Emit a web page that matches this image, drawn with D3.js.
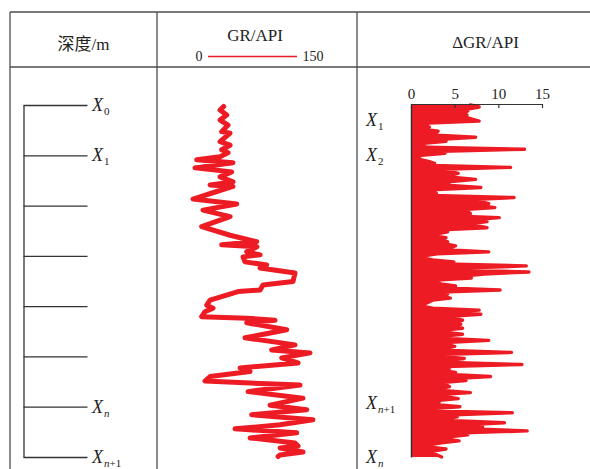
<!DOCTYPE html>
<html>
<head>
<meta charset="utf-8">
<script src="https://cdn.jsdelivr.net/npm/d3@7"></script>
<style>
  body { margin: 0; background: #fff; }
  svg text { font-family: "Liberation Serif", "Times New Roman", "Noto Sans CJK SC", serif; fill: #222; }
</style>
</head>
<body>
<div id="chart"></div>
<script>
// Depth column: tick depths (m) and label subscripts (blank = unlabeled tick)
const depthTicks = [0, 10, 20, 30, 40, 50, 60, 70];
const depthSubs = ["0", "1", "", "", "", "", "n", "n+1"];

// GR curve (depth m, GR API)
const grDepth = [0.3, 1.0, 2.0, 3.0, 4.0, 5.3, 5.6, 7.3, 8.0, 8.9, 9.5, 10.3, 10.9, 11.5, 12.5, 13.3, 14.3, 15.3, 15.9, 16.2,
  17.2, 18.7, 19.7, 20.9, 22.2, 24.2, 25.9, 27.2, 27.8, 28.2, 29.2, 29.8, 30.2, 31.2, 31.8, 32.4, 33.4, 35.1, 35.8, 36.8,
  37.1, 38.8, 39.8, 40.4, 41.1, 42.1, 42.4, 42.8, 43.3, 44.7, 46.3, 47.7, 48.7, 49.3, 50.3, 51.3, 52.3, 53.0, 54.0, 54.9,
  55.7, 57.0, 58.3, 59.7, 60.6, 61.6, 62.6, 63.6, 64.4, 65.2, 66.2, 67.2, 67.8, 68.2, 69.0, 69.6, 69.9];
const grValue = [50, 47.3, 52.3, 47.3, 53.3, 48.5, 54.8, 47.3, 54.8, 48.5, 53.3, 47.3, 29.8, 57, 28.5, 56, 47.3, 57, 39.8, 57,
  44.8, 27, 59.8, 34.5, 54.8, 33.5, 54.8, 74.8, 48.5, 75, 67.3, 77.3, 64.5, 66, 82.3, 77.3, 103.5, 102, 79.5, 77.3,
  60.8, 39.8, 37.3, 42, 36, 33.5, 67.3, 88.5, 67.3, 97.3, 66, 103.5, 86, 114.8, 93.5, 105.8, 62.3, 69.8, 39.8, 36,
  107.3, 68.3, 109.5, 84.8, 112.3, 71, 117, 92.3, 58.5, 104.8, 69.8, 103.5, 105.8, 92.3, 109.5, 92.3, 90.8];

// ΔGR envelope, one sample every 0.4 m from the top
const dgrStep = 0.4;
const dgrValue = [6.8, 7.8, 6.5, 6.5, 6.0, 6.4, 6.2, 7.0, 7.8, 2.0, 1.5, 2.1, 1.5, 3.1, 2.8, 3.0, 7.4, 3.5, 4.0, 1.5,
  1.2, 1.8, 13.0, 3.5, 3.9, 1.2, 0.8, 1.0, 2.0, 2.7, 2.5, 11.4, 3.5, 4.5, 5.4, 4.5, 5.0, 7.4, 4.6, 4.0,
  4.5, 8.0, 3.0, 2.5, 2.9, 2.5, 11.8, 7.0, 8.0, 8.9, 8.0, 9.6, 6.0, 6.5, 6.8, 4.0, 10.1, 7.5, 8.7, 7.0,
  7.5, 8.7, 3.5, 4.2, 3.0, 2.5, 4.0, 3.5, 4.2, 4.0, 5.1, 4.6, 4.0, 8.9, 3.0, 1.5, 1.3, 2.5, 4.9, 4.0,
  13.2, 5.9, 5.0, 13.5, 8.4, 6.0, 6.9, 3.0, 3.0, 3.4, 5.1, 4.0, 10.2, 3.5, 4.2, 3.5, 4.5, 2.5, 2.0, 1.5,
  1.2, 2.5, 7.8, 4.0, 8.0, 4.5, 5.0, 5.9, 4.5, 5.7, 4.5, 5.9, 3.5, 3.8, 5.9, 3.5, 4.0, 8.9, 4.5, 4.0,
  5.0, 4.0, 4.5, 11.5, 3.8, 3.5, 6.1, 4.0, 4.5, 12.7, 4.0, 4.4, 3.5, 5.1, 4.5, 9.1, 5.0, 6.3, 3.5, 4.0,
  4.4, 3.5, 4.0, 6.8, 3.2, 4.0, 5.4, 3.0, 3.2, 3.0, 5.6, 2.0, 1.3, 11.6, 5.0, 5.3, 4.0, 5.0, 10.7, 6.0,
  8.2, 7.0, 13.3, 6.0, 6.5, 4.4, 4.0, 5.5, 3.5, 2.1, 2.0, 4.0, 2.5, 2.1, 3.0, 3.5];
const dgrTicks = [0, 5, 10, 15];

// markers beside the ΔGR track
const dgrMarkSubs = ["1", "2", "n+1", "n"];
const dgrMarkDepths = [3.0, 10.0, 59.3, 70.0];

const W = 590, H = 469;
const red = "#ED1C24";
const frameColor = "#4d4d4d";

const svg = d3.select("#chart").append("svg")
    .attr("width", W)
    .attr("height", H);

// table layout
const frameLeft = 10, frameTop = 12, headBottom = 67;
const col1 = 157, col2 = 357;

const frame = svg.append("g")
    .attr("stroke", frameColor)
    .attr("stroke-width", 1.3);
frame.append("line").attr("x1", frameLeft).attr("x2", W).attr("y1", frameTop).attr("y2", frameTop);
frame.append("line").attr("x1", frameLeft).attr("x2", W).attr("y1", headBottom).attr("y2", headBottom);
[frameLeft, col1, col2].forEach(x => {
    frame.append("line").attr("x1", x).attr("x2", x).attr("y1", frameTop).attr("y2", H);
});

// scales
const y = d3.scaleLinear().domain([0, 70]).range([105, 457]);
const xGR = d3.scaleLinear().domain([0, 150]).range([col1, col2]);
const xD = d3.scaleLinear().domain([0, 15]).range([411, 542]);

// headers
svg.append("text")
    .attr("x", (frameLeft + col1) / 2).attr("y", 50)
    .attr("text-anchor", "middle")
    .style("font-size", "17px")
    .text("深度/m");

svg.append("text")
    .attr("x", 255).attr("y", 41)
    .attr("text-anchor", "middle")
    .style("font-size", "17px")
    .text("GR/API");

svg.append("text").attr("x", 199).attr("y", 61).attr("text-anchor", "middle")
    .style("font-size", "14px").text("0");
svg.append("line")
    .attr("x1", 208).attr("x2", 297).attr("y1", 56.5).attr("y2", 56.5)
    .attr("stroke", red).attr("stroke-width", 1.5);
svg.append("text").attr("x", 313).attr("y", 61).attr("text-anchor", "middle")
    .style("font-size", "14px").text("150");

svg.append("text")
    .attr("x", (col2 + W) / 2 + 12).attr("y", 48)
    .attr("text-anchor", "middle")
    .style("font-size", "17px")
    .text("ΔGR/API");

// X label with subscript, "n" in italic
function xLabel(g, x, yy, sub) {
    const t = g.append("text").attr("x", x).attr("y", yy).style("font-size", "18px");
    t.append("tspan").style("font-style", "italic").text("X");
    if (!sub) return;
    const parts = sub.split(/(n)/).filter(s => s);
    parts.forEach((p, i) => {
        const s = t.append("tspan")
            .style("font-size", "11px")
            .style("font-style", p === "n" ? "italic" : "normal")
            .text(p);
        if (i === 0) s.attr("dy", 4).attr("dx", 1);
    });
}

// depth column
const depthAxis = svg.append("g")
    .attr("transform", "translate(23.5,0)")
    .call(d3.axisRight(y).tickValues(depthTicks).tickSize(64).tickSizeOuter(0).tickFormat(""));
depthAxis.selectAll("path, line").attr("stroke", "#333").attr("stroke-width", 1.3);

const depthLabels = svg.append("g");
depthTicks.forEach((d, i) => {
    if (depthSubs[i]) xLabel(depthLabels, 92, y(d) + 6, depthSubs[i]);
});

// GR curve
const grLine = d3.line()
    .x(d => xGR(d[1]))
    .y(d => y(d[0]));

svg.append("path")
    .datum(d3.zip(grDepth, grValue))
    .attr("d", grLine)
    .attr("fill", "none")
    .attr("stroke", red)
    .attr("stroke-width", 5)
    .attr("stroke-linejoin", "round")
    .attr("stroke-linecap", "round");

// ΔGR: fill to the axis, then a thick outline on the value side only
const dgrArea = d3.area()
    .x0(xD(0))
    .x1(d => xD(d))
    .y((d, i) => y(i * dgrStep));

const dgrLine = d3.line()
    .x(d => xD(d))
    .y((d, i) => y(i * dgrStep));

svg.append("path")
    .datum(dgrValue)
    .attr("d", dgrArea)
    .attr("fill", red);

svg.append("path")
    .datum(dgrValue)
    .attr("d", dgrLine)
    .attr("fill", "none")
    .attr("stroke", red)
    .attr("stroke-width", 3.4)
    .attr("stroke-linejoin", "round")
    .attr("stroke-linecap", "round");

// ΔGR axes
const topAxis = svg.append("g")
    .attr("transform", "translate(0,104)")
    .call(d3.axisTop(xD).tickValues(dgrTicks).tickSizeInner(-4).tickSizeOuter(0).tickPadding(5));
topAxis.selectAll("path, line").attr("stroke", "#333").attr("stroke-width", 1.2);
topAxis.selectAll("text")
    .style("font-size", "15px")
    .style("font-family", "'Liberation Serif', serif")
    .attr("fill", "#222");

const sideAxis = svg.append("g")
    .attr("transform", "translate(411,0)")
    .call(d3.axisLeft(y).tickValues([]).tickSizeOuter(0));
sideAxis.select("path").attr("stroke", "#333").attr("stroke-width", 1.5);

const dgrLabels = svg.append("g");
dgrMarkDepths.forEach((d, i) => {
    xLabel(dgrLabels, 366, y(d) + 6, dgrMarkSubs[i]);
});
</script>
</body>
</html>
